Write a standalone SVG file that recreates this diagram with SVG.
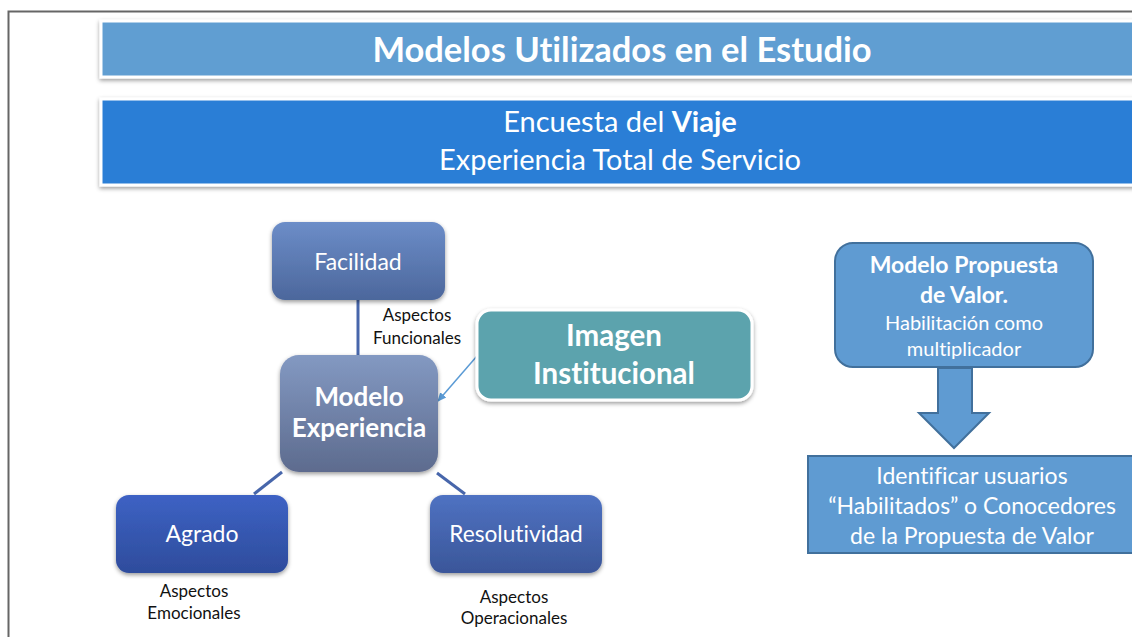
<svg xmlns="http://www.w3.org/2000/svg" width="1132" height="637" viewBox="0 0 1132 637">
<defs>
  <filter id="sh" x="-10%" y="-10%" width="120%" height="130%">
    <feDropShadow dx="0" dy="2" stdDeviation="2" flood-color="#000" flood-opacity="0.4"/>
  </filter>
  <linearGradient id="gFac" x1="0" y1="0" x2="0" y2="1">
    <stop offset="0" stop-color="#6C8DC8"/><stop offset="1" stop-color="#4C679C"/>
  </linearGradient>
  <linearGradient id="gMod" x1="0" y1="0" x2="0" y2="1">
    <stop offset="0" stop-color="#8399C2"/><stop offset="1" stop-color="#5D6B8E"/>
  </linearGradient>
  <linearGradient id="gAgr" x1="0" y1="0" x2="0" y2="1">
    <stop offset="0" stop-color="#3D62C4"/><stop offset="1" stop-color="#2E4C9C"/>
  </linearGradient>
  <linearGradient id="gRes" x1="0" y1="0" x2="0" y2="1">
    <stop offset="0" stop-color="#4F72C2"/><stop offset="1" stop-color="#3A5699"/>
  </linearGradient>
  <marker id="arr" markerWidth="10" markerHeight="10" refX="8" refY="5" orient="auto" markerUnits="userSpaceOnUse">
    <path d="M0,1 L9,5 L0,9 Z" fill="#5B9BD5"/>
  </marker>
  <style>
    text { font-family: Lato, "Open Sans", "Liberation Sans", sans-serif; fill: #fff; text-anchor: middle; font-variant-ligatures: none; font-feature-settings: "liga" 0; }
    .lbl { fill: #111; font-size: 17px; }
    .conn { stroke: #4766AB; stroke-width: 3; fill: none; }
    .blue { fill: #5F9BD2; stroke: #41709C; stroke-width: 2; }
  </style>
</defs>
<rect width="1132" height="637" fill="#fff"/>
<path d="M8.5,640 V11.5 H1140" fill="none" stroke="#666" stroke-width="2"/>

<g id="title">
  <rect x="101" y="21" width="1040" height="56" fill="#619ED2" stroke="#fff" stroke-width="3" filter="url(#sh)"/>
  <text x="622" y="62" font-size="34.5" font-weight="bold">Modelos Utilizados en el Estudio</text>
</g>
<g id="subtitle">
  <rect x="101" y="99" width="1040" height="86" fill="#2A7ED6" stroke="#fff" stroke-width="3" filter="url(#sh)"/>
  <text x="620" y="132" font-size="29">Encuesta del <tspan font-weight="bold">Viaje</tspan></text>
  <text x="620" y="170" font-size="29">Experiencia Total de Servicio</text>
</g>

<g id="connectors">
  <line class="conn" x1="358" y1="300" x2="358" y2="356"/>
  <line class="conn" x1="282" y1="472" x2="254" y2="494"/>
  <line class="conn" x1="437" y1="473" x2="465" y2="494"/>
  <line x1="477" y1="356" x2="438" y2="401" stroke="#5B9BD5" stroke-width="1.5" marker-end="url(#arr)"/>
</g>

<g id="facilidad">
  <rect x="272" y="222" width="173" height="78" rx="13" fill="url(#gFac)" filter="url(#sh)"/>
  <text x="358" y="270" font-size="23">Facilidad</text>
</g>
<g id="lbl-funcionales">
  <text class="lbl" x="417" y="321">Aspectos</text>
  <text class="lbl" x="417" y="344">Funcionales</text>
</g>
<g id="modelo">
  <rect x="280" y="355" width="158" height="117" rx="19" fill="url(#gMod)" filter="url(#sh)"/>
  <text x="359" y="406" font-size="26" font-weight="bold">Modelo</text>
  <text x="359" y="437" font-size="26" font-weight="bold">Experiencia</text>
</g>
<g id="imagen">
  <rect x="477" y="310" width="275" height="90" rx="14" fill="#5BA3AD" stroke="#fff" stroke-width="3" filter="url(#sh)"/>
  <text x="614" y="346" font-size="29.5" font-weight="bold">Imagen</text>
  <text x="614" y="384" font-size="29.5" font-weight="bold">Institucional</text>
</g>
<g id="agrado">
  <rect x="116" y="495" width="172" height="78" rx="13" fill="url(#gAgr)" filter="url(#sh)"/>
  <text x="202" y="542" font-size="23">Agrado</text>
</g>
<g id="lbl-emocionales">
  <text class="lbl" x="194" y="597">Aspectos</text>
  <text class="lbl" x="194" y="619">Emocionales</text>
</g>
<g id="resolutividad">
  <rect x="430" y="495" width="172" height="78" rx="13" fill="url(#gRes)" filter="url(#sh)"/>
  <text x="516" y="542" font-size="22.7">Resolutividad</text>
</g>
<g id="lbl-operacionales">
  <text class="lbl" x="514" y="603">Aspectos</text>
  <text class="lbl" x="514" y="624">Operacionales</text>
</g>

<g id="propuesta">
  <rect class="blue" x="835" y="243" width="258" height="124" rx="18"/>
  <text x="964" y="273" font-size="23" font-weight="bold">Modelo Propuesta</text>
  <text x="964" y="303" font-size="23" font-weight="bold">de Valor.</text>
  <text x="964" y="330" font-size="20">Habilitación como</text>
  <text x="964" y="356" font-size="20">multiplicador</text>
</g>
<g id="block-arrow">
  <path class="blue" d="M938,368 H972 V413 H989 L954,448 L919,413 H938 Z"/>
</g>
<g id="identificar">
  <rect class="blue" x="808" y="456" width="330" height="97"/>
  <text x="972" y="484" font-size="23">Identificar usuarios</text>
  <text x="972" y="514" font-size="23">“Habilitados” o Conocedores</text>
  <text x="972" y="544" font-size="23">de la Propuesta de Valor</text>
</g>
</svg>
